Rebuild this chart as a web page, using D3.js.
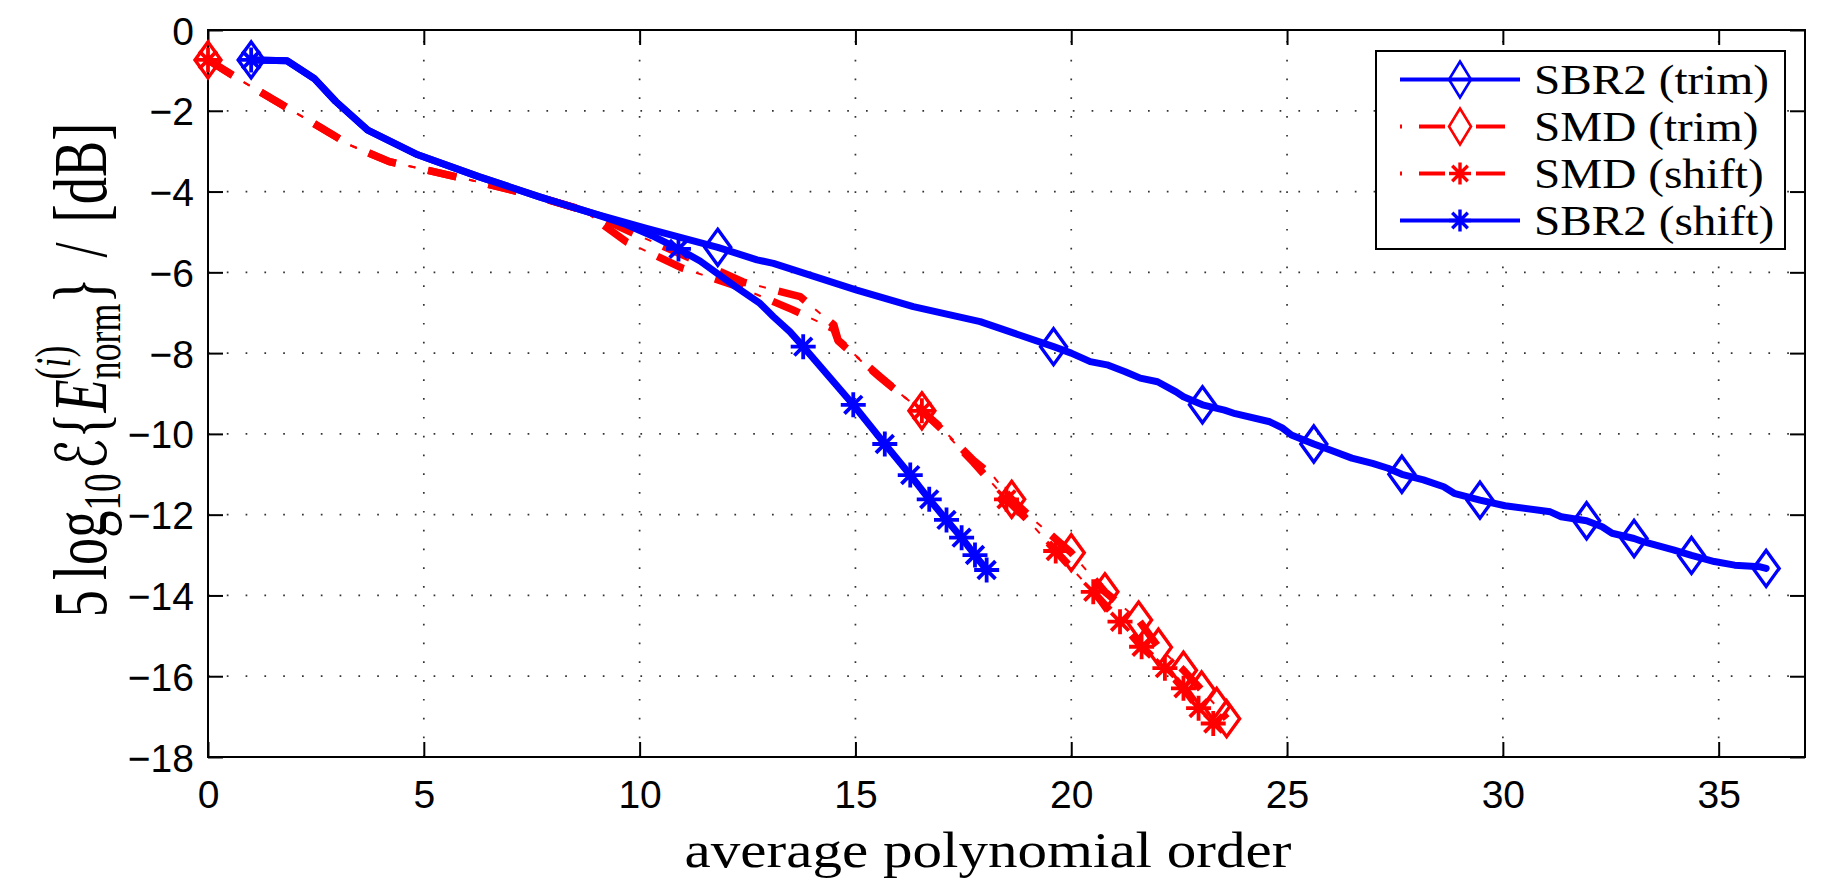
<!DOCTYPE html>
<html>
<head>
<meta charset="utf-8">
<script src="https://cdn.jsdelivr.net/npm/d3@7"></script>
<style>
  body { margin: 0; background: #fff; }
  svg { display: block; }
</style>
</head>
<body>
<svg id="chart" width="1835" height="883"></svg>
<script>
// values

var xTicks = [0, 5, 10, 15, 20, 25, 30, 35];
var yTicks = [0, -2, -4, -6, -8, -10, -12, -14, -16, -18];

var seriesNames = ["SBR2 (trim)", "SMD (trim)", "SMD (shift)", "SBR2 (shift)"];

// SBR2 (trim)
var sbr2TrimX = [1, 1.83, 2.46, 2.96, 3.7, 4.86, 6.27, 7.68, 8.92, 10.16, 11.81, 12.72, 13.1, 15.03, 16.34, 17.89, 19.59, 20.0, 20.44, 20.83, 21.25, 21.6, 22.0, 22.43, 22.6, 23.04, 23.55, 23.8, 24.6, 24.9, 25.1, 25.62, 26.0, 26.5, 26.98, 27.34, 27.66, 28.16, 28.63, 28.87, 29.47, 30.05, 31.1, 31.35, 31.94, 32.3, 32.53, 33.04, 33.25, 33.95, 34.37, 34.9, 35.37, 35.96, 36.1];
var sbr2TrimY = [-0.74, -0.76, -1.2, -1.77, -2.48, -3.09, -3.63, -4.13, -4.54, -4.91, -5.38, -5.69, -5.78, -6.44, -6.85, -7.22, -7.84, -8.0, -8.21, -8.29, -8.46, -8.62, -8.71, -8.96, -9.08, -9.28, -9.41, -9.5, -9.7, -9.86, -10.03, -10.25, -10.4, -10.6, -10.73, -10.85, -11.0, -11.14, -11.31, -11.47, -11.64, -11.78, -11.93, -12.05, -12.15, -12.3, -12.46, -12.59, -12.67, -12.87, -13.01, -13.16, -13.25, -13.29, -13.33];
var sbr2TrimMarkX = [1, 11.81, 19.59, 23.04, 25.62, 27.66, 29.47, 31.94, 33.04, 34.37, 36.1];
var sbr2TrimMarkY = [-0.74, -5.38, -7.84, -9.28, -10.25, -11.0, -11.64, -12.15, -12.59, -13.01, -13.33];

// SMD (trim)
var smdTrimX = [0, 0.81, 2.05, 3.29, 4.2, 6.1, 7.51, 8.69, 9.85, 11.17, 12.4, 13.72, 14.5, 14.6, 15.57, 16.03, 16.54, 16.96, 17.73, 18.2, 18.62, 19.05, 20.0, 20.78, 21.56, 22.02, 22.6, 23.02, 23.37, 23.6];
var smdTrimY = [-0.74, -1.28, -2.06, -2.85, -3.26, -3.72, -4.09, -4.46, -5.03, -5.65, -6.24, -6.6, -7.3, -7.68, -8.58, -9.0, -9.43, -9.82, -10.65, -11.06, -11.62, -12.05, -12.94, -13.91, -14.61, -15.28, -15.85, -16.34, -16.75, -17.05];
var smdTrimMarkX = [0, 16.54, 18.62, 20.0, 20.78, 21.56, 22.02, 22.6, 23.02, 23.37, 23.6];
var smdTrimMarkY = [-0.74, -9.43, -11.62, -12.94, -13.91, -14.61, -15.28, -15.85, -16.34, -16.75, -17.05];

// SMD (shift)
var smdShiftX = [0, 0.81, 2.05, 3.29, 4.2, 6.1, 7.51, 8.69, 9.7, 11.0, 12.3, 13.55, 14.5, 14.6, 15.57, 16.03, 16.54, 16.96, 17.73, 18.5, 19.05, 19.64, 20.51, 21.13, 21.63, 22.17, 22.6, 22.95, 23.29];
var smdShiftY = [-0.74, -1.28, -2.06, -2.85, -3.26, -3.72, -4.09, -4.46, -5.25, -5.9, -6.36, -6.93, -7.4, -7.7, -8.6, -9.0, -9.43, -9.85, -10.7, -11.62, -12.2, -12.9, -13.91, -14.65, -15.27, -15.8, -16.3, -16.79, -17.17];
var smdShiftMarkX = [0, 16.54, 18.5, 19.64, 20.51, 21.13, 21.63, 22.17, 22.6, 22.95, 23.29];
var smdShiftMarkY = [-0.74, -9.43, -11.62, -12.9, -13.91, -14.65, -15.27, -15.8, -16.3, -16.79, -17.17];

// SBR2 (shift)
var sbr2ShiftX = [1, 1.83, 2.46, 2.96, 3.7, 4.86, 6.27, 7.68, 8.92, 9.7, 10.3, 10.9, 11.4, 12.23, 12.79, 13.1, 13.48, 13.79, 14.95, 15.68, 16.27, 16.71, 17.11, 17.46, 17.77, 18.04];
var sbr2ShiftY = [-0.74, -0.76, -1.2, -1.77, -2.48, -3.09, -3.63, -4.13, -4.54, -4.82, -5.1, -5.42, -5.72, -6.36, -6.77, -7.1, -7.47, -7.84, -9.28, -10.25, -11.02, -11.62, -12.13, -12.57, -13.0, -13.37];
var sbr2ShiftMarkX = [1, 10.9, 13.79, 14.95, 15.68, 16.27, 16.71, 17.11, 17.46, 17.77, 18.04];
var sbr2ShiftMarkY = [-0.74, -5.42, -7.84, -9.28, -10.25, -11.02, -11.62, -12.13, -12.57, -13.0, -13.37];

//-----------------------------

document.addEventListener("DOMContentLoaded", function(event) {

    var svg = d3.select("#chart");
    var L = 208, R = 1805, T = 30, B = 757;
    var sans = "'Liberation Sans', Arial, Helvetica, sans-serif";
    var serif = "'Liberation Serif', 'DejaVu Serif', serif";

    var x = d3.scaleLinear().domain([0, 37]).range([L, R]);
    var y = d3.scaleLinear().domain([-18, 0]).range([B, T]);

    var blue = "#0000ff", red = "#ff0000";

    // dotted grid
    var grid = svg.append("g")
        .attr("stroke", "#333").attr("stroke-width", 1.7)
        .attr("stroke-dasharray", "1.7,17.1");
    grid.selectAll("line.gx").data(xTicks.slice(1)).enter().append("line")
        .attr("x1", function(d) { return x(d); }).attr("x2", function(d) { return x(d); })
        .attr("y1", B).attr("y2", T);
    grid.selectAll("line.gy").data(yTicks.slice(1, -1)).enter().append("line")
        .attr("y1", function(d) { return y(d); }).attr("y2", function(d) { return y(d); })
        .attr("x1", L).attr("x2", R);

    // axes, matlab style ticks pointing inwards
    var fmt = d3.format("d");
    var axB = svg.append("g").attr("transform", "translate(0," + B + ")")
        .call(d3.axisBottom(x).tickValues(xTicks).tickSizeInner(-15).tickSizeOuter(0).tickPadding(23).tickFormat(fmt));
    var axL = svg.append("g").attr("transform", "translate(" + L + ",0)")
        .call(d3.axisLeft(y).tickValues(yTicks).tickSizeInner(-15).tickSizeOuter(0).tickPadding(14).tickFormat(fmt));
    var axT = svg.append("g").attr("transform", "translate(0," + T + ")")
        .call(d3.axisTop(x).tickValues(xTicks).tickSizeInner(-15).tickSizeOuter(0).tickFormat(""));
    var axR = svg.append("g").attr("transform", "translate(" + R + ",0)")
        .call(d3.axisRight(y).tickValues(yTicks).tickSizeInner(-15).tickSizeOuter(0).tickFormat(""));

    [axB, axL, axT, axR].forEach(function(a) {
        a.select(".domain").remove();
        a.selectAll(".tick line").attr("stroke", "#000").attr("stroke-width", 2);
        a.selectAll("text").attr("font-family", sans).attr("font-size", 39).attr("fill", "#000");
    });
    axB.selectAll("text").attr("dy", "0.71em");
    axL.selectAll("text").attr("dy", "0.36em");

    svg.append("rect").attr("x", L).attr("y", T).attr("width", R - L).attr("height", B - T)
        .attr("fill", "none").attr("stroke", "#000").attr("stroke-width", 2);

    // curves
    var line = d3.line().x(function(d) { return x(d[0]); }).y(function(d) { return y(d[1]); });
    var plot = svg.append("g");

    function diamond(w, h) {
        return "M0," + (-h / 2) + "L" + (w / 2) + ",0L0," + (h / 2) + "L" + (-w / 2) + ",0Z";
    }
    function asterisk(r) {
        var q = r * 0.7071;
        return "M0," + (-r) + "V" + r + "M" + (-r) + ",0H" + r +
            "M" + (-q) + "," + (-q) + "L" + q + "," + q + "M" + (-q) + "," + q + "L" + q + "," + (-q);
    }

    function drawSeries(xs, ys, mx, my, color, dashed, marker) {
        var pts = d3.zip(xs, ys);
        if (dashed) {
            plot.append("path").attr("d", line(pts)).attr("fill", "none")
                .attr("stroke", color).attr("stroke-width", 7.5)
                .attr("stroke-dasharray", "29,33").attr("stroke-linejoin", "round");
            plot.append("path").attr("d", line(pts)).attr("fill", "none")
                .attr("stroke", color).attr("stroke-width", 2)
                .attr("stroke-dasharray", "7,55").attr("stroke-dashoffset", 20);
        } else {
            plot.append("path").attr("d", line(pts)).attr("fill", "none")
                .attr("stroke", color).attr("stroke-width", 7)
                .attr("stroke-linejoin", "round").attr("stroke-linecap", "round");
        }
        var mk = d3.zip(mx, my);
        plot.selectAll(null).data(mk).enter().append("path")
            .attr("transform", function(d) { return "translate(" + x(d[0]) + "," + y(d[1]) + ")"; })
            .attr("d", marker === "d" ? diamond(26, 36) : asterisk(12.5))
            .attr("fill", "none").attr("stroke", color)
            .attr("stroke-width", marker === "d" ? 3.4 : 3.8);
    }

    drawSeries(sbr2TrimX, sbr2TrimY, sbr2TrimMarkX, sbr2TrimMarkY, blue, false, "d");
    drawSeries(smdTrimX, smdTrimY, smdTrimMarkX, smdTrimMarkY, red, true, "d");
    drawSeries(smdShiftX, smdShiftY, smdShiftMarkX, smdShiftMarkY, red, true, "*");
    drawSeries(sbr2ShiftX, sbr2ShiftY, sbr2ShiftMarkX, sbr2ShiftMarkY, blue, false, "*");

    // legend
    var lg = svg.append("g");
    lg.append("rect").attr("x", 1376).attr("y", 51).attr("width", 409).attr("height", 198)
        .attr("fill", "#fff").attr("stroke", "#000").attr("stroke-width", 2);
    var legColors = [blue, red, red, blue];
    var legDashed = [false, true, true, false];
    var legMarker = ["d", "d", "*", "*"];
    var k = null;
    seriesNames.forEach(function(name, i) {
        var ry = 79.5 + i * 47;
        var c = legColors[i];
        if (legDashed[i]) {
            lg.append("line").attr("x1", 1400).attr("x2", 1402).attr("y1", ry).attr("y2", ry)
                .attr("stroke", c).attr("stroke-width", 4);
            lg.append("line").attr("x1", 1419).attr("x2", 1445).attr("y1", ry).attr("y2", ry)
                .attr("stroke", c).attr("stroke-width", 4);
            lg.append("line").attr("x1", 1476).attr("x2", 1505).attr("y1", ry).attr("y2", ry)
                .attr("stroke", c).attr("stroke-width", 4);
        } else {
            lg.append("line").attr("x1", 1400).attr("x2", 1520).attr("y1", ry).attr("y2", ry)
                .attr("stroke", c).attr("stroke-width", 4);
        }
        lg.append("path").attr("transform", "translate(1460," + ry + ")")
            .attr("d", legMarker[i] === "d" ? diamond(22, 36) : asterisk(11))
            .attr("fill", "none").attr("stroke", c)
            .attr("stroke-width", legMarker[i] === "d" ? 2.6 : 3.4);
        var t = lg.append("text")
            .attr("font-family", serif).attr("font-size", 42).attr("fill", "#000")
            .text(name);
        var w = t.node().getComputedTextLength();
        if (k === null) k = 235 / w;
        t.attr("transform", "translate(1534," + (ry + 14) + ") scale(" + k + ",1)");
    });

    // x label
    var xl = svg.append("text").attr("text-anchor", "middle")
        .attr("font-family", serif).attr("font-size", 50).attr("fill", "#000")
        .text("average polynomial order");
    var xw = xl.node().getComputedTextLength();
    xl.attr("transform", "translate(988,867) scale(" + (607 / xw) + ",1)");

    // y label: 5 log10 E{ E_norm^(i) } / [dB]
    var yl = svg.append("text").attr("text-anchor", "middle")
        .attr("font-family", serif).attr("font-size", 76).attr("fill", "#000");
    yl.append("tspan").text("5");
    yl.append("tspan").attr("dx", 14).text("log");
    yl.append("tspan").attr("font-size", 52).attr("dy", 14).text("10");
    yl.append("tspan").attr("dy", -14).attr("dx", 6).attr("font-family", "'DejaVu Sans', sans-serif").attr("font-size", 70).text("\u2130");
    yl.append("tspan").text("{");
    yl.append("tspan").attr("font-style", "italic").text("E");
    yl.append("tspan").attr("font-size", 50).attr("dy", -36).text("(");
    yl.append("tspan").attr("font-size", 50).attr("font-style", "italic").text("i");
    yl.append("tspan").attr("font-size", 50).text(")");
    yl.append("tspan").attr("font-size", 50).attr("dx", -47).attr("dy", 50).text("norm");
    yl.append("tspan").attr("dy", -14).text("}");
    yl.append("tspan").attr("dx", 28).text("/");
    yl.append("tspan").attr("dx", 28).text("[dB]");
    var yw = yl.node().getComputedTextLength();
    yl.attr("transform", "translate(106,370) rotate(-90) scale(" + (474 / yw) + ",1)");
});
</script>
</body>
</html>
